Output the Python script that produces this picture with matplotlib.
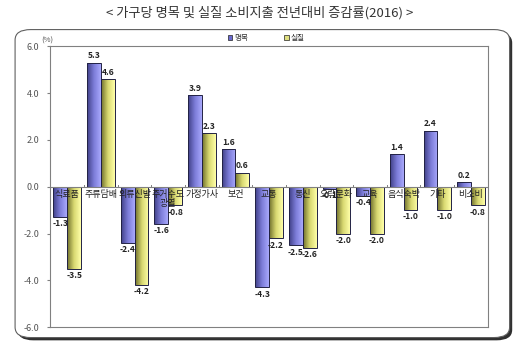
import numpy as np
import matplotlib.pyplot as plt
from matplotlib.colors import LinearSegmentedColormap
from matplotlib.patches import FancyBboxPatch, Rectangle

plt.rcParams['font.family'] = ['Noto Sans CJK KR', 'DejaVu Sans']

# data
categories = ['식료품', '주류담배', '의류신발', '주거수도\n광열', '가정가사', '보건', '교통',
              '통신', '오락문화', '교육', '음식숙박', '기타', '비소비']
nominal = [-1.3, 5.3, -2.4, -1.6, 3.9, 1.6, -4.3, -2.5, -0.1, -0.4, 1.4, 2.4, 0.2]
real = [-3.5, 4.6, -4.2, -0.8, 2.3, 0.6, -2.2, -2.6, -2.0, -2.0, -1.0, -1.0, -0.8]
yticks = [6.0, 4.0, 2.0, 0.0, -2.0, -4.0, -6.0]

blue_cmap = LinearSegmentedColormap.from_list('b', ['#404086', '#7c7cd8', '#a8a8fc'])
yel_cmap = LinearSegmentedColormap.from_list('y', ['#6e6e2c', '#d8d870', '#ffffa8'])

fig = plt.figure(figsize=(5.2, 3.48), dpi=100)

# outer rounded frame with shadow
shadow = FancyBboxPatch((0.034, 0.022), 0.951, 0.885, boxstyle='round,pad=0,rounding_size=0.03',
                        transform=fig.transFigure, facecolor='#303030', edgecolor='none', zorder=0)
frame = FancyBboxPatch((0.029, 0.03), 0.951, 0.885, boxstyle='round,pad=0,rounding_size=0.03',
                       transform=fig.transFigure, facecolor='white', edgecolor='#606060',
                       linewidth=0.8, zorder=0.5)
fig.patches.extend([shadow, frame])

fig.text(0.5, 0.962, '< 가구당 명목 및 실질 소비지출 전년대비 증감률(2016) >',
         ha='center', va='center', fontsize=9.5, color='#333333')

ax = fig.add_axes([0.097, 0.06, 0.841, 0.807])
ax.set_zorder(2)

x = np.arange(len(categories))
w = 0.41
grad = np.linspace(0, 1, 64).reshape(1, -1)

def draw_bars(xs, vals, cmap):
    bars = ax.bar(xs, vals, width=w, facecolor='none', edgecolor='#222244', linewidth=0.7, zorder=3)
    for b in bars:
        x0, y0 = b.get_x(), b.get_y()
        x1, y1 = x0 + b.get_width(), y0 + b.get_height()
        im = ax.imshow(grad, extent=[x0, x1, min(y0, y1), max(y0, y1)], aspect='auto',
                       cmap=cmap, zorder=2, interpolation='bilinear')
        im.set_clip_path(b)
    return bars

draw_bars(x - w / 2, nominal, blue_cmap)
draw_bars(x + w / 2, real, yel_cmap)
ax.set_xlim(-0.5, len(categories) - 0.5)
ax.set_ylim(-6, 6)

# value labels
for xs, vals in [(x - w / 2, nominal), (x + w / 2, real)]:
    for xi, v in zip(xs, vals):
        ax.text(xi, v + (0.1 if v >= 0 else -0.1), f'{v:.1f}', ha='center',
                va='bottom' if v >= 0 else 'top', fontsize=6.1, fontweight='bold',
                color='#222222', zorder=5)

# category labels on the zero line
for xi, c in zip(x, categories):
    ax.text(xi, -0.15, c, ha='center', va='top', fontsize=6.5, color='#222222', zorder=6,
            linespacing=1.0)

ax.axhline(0, color='#808080', linewidth=0.8, zorder=4)
for xi in np.arange(-0.5, len(categories)):
    ax.plot([xi, xi], [0, 0.08], color='#808080', linewidth=0.7, zorder=4)

ax.set_xticks([])
ax.set_yticks(yticks)
ax.set_yticklabels([f'{t:.1f}' for t in yticks], fontsize=6.5, color='#555555')
ax.tick_params(axis='y', length=2, color='#808080', pad=6)
for s in ax.spines.values():
    s.set_color('#808080')
    s.set_linewidth(0.8)
ax.text(-0.02, 1.005, '(%)', transform=ax.transAxes, fontsize=5.5, color='#555555',
        ha='left', va='bottom')

# legend
for lx, lab, col in [(0.438, '명목', '#6a6ad0'), (0.546, '실질', '#e0e080')]:
    fig.patches.append(Rectangle((lx, 0.885), 0.009, 0.013, transform=fig.transFigure,
                                 facecolor=col, edgecolor='#222222', linewidth=0.5, zorder=3))
    fig.text(lx + 0.012, 0.891, lab, fontsize=5.5, va='center', ha='left', color='#333333')

fig.savefig('out.png', dpi=100)
